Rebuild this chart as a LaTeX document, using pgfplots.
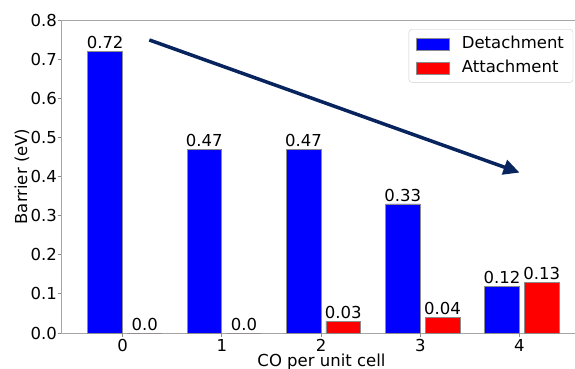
\documentclass[border=0pt]{standalone}
\usepackage{pgfplots}
\pgfplotsset{compat=1.18}
\usepackage{pgfplotstable}
\usepackage{fontspec}
\setmainfont{DejaVu Sans}
\usetikzlibrary{arrows.meta}
\definecolor{navy}{RGB}{8,36,94}
\pgfplotstableread{
x y lab
0 0.72 0.72
1 0.47 0.47
2 0.47 0.47
3 0.33 0.33
4 0.12 0.12
}\detach
\pgfplotstableread{
x y lab
0 0.00 0.0
1 0.00 0.0
2 0.03 0.03
3 0.04 0.04
4 0.13 0.13
}\attach
\begin{document}
\fontsize{16.5}{19.8}\selectfont
\begin{tikzpicture}
\begin{axis}[
  scale only axis, width=521pt, height=313pt,
  xmin=-0.62, xmax=4.63, ymin=0, ymax=0.8,
  xtick={0,1,2,3,4},
  ytick={0,0.1,0.2,0.3,0.4,0.5,0.6,0.7,0.8},
  yticklabel style={/pgf/number format/fixed, /pgf/number format/fixed zerofill, /pgf/number format/precision=1, xshift=5pt},
  xticklabel style={yshift=3pt},
  /pgf/number format/assume math mode=true,
  axis line style={black!35},
  tick style={black!45, line width=0.8pt},
  tick align=outside, major tick length=3.5pt,
  xtick pos=bottom, ytick pos=left,
  xlabel={CO per unit cell}, ylabel={Barrier (eV)},
  xlabel style={yshift=9pt},
  ylabel style={at={(axis description cs:-0.075,0.5)}, anchor=center},
  ticklabel style={font=\fontsize{16.5}{19.8}\selectfont},
  label style={font=\fontsize{16.5}{19.8}\selectfont},
  bar width=0.35,
  nodes near coords,
  point meta=explicit symbolic,
  nodes near coords style={font=\fontsize{16.5}{19.8}\selectfont, anchor=south, inner sep=2pt},
  legend style={at={(0.983,0.971)}, anchor=north east, draw=black!20, rounded corners=3pt,
    font=\fontsize{16.5}{19.8}\selectfont, row sep=5pt, inner xsep=7pt, inner ysep=5pt},
  legend cell align=left,
  legend image code/.code={\draw[#1, line width=0.5pt, sharp corners] (0pt,-6pt) rectangle (33pt,6pt);},
  clip=false,
]
\addplot[ybar, bar shift=-0.175, fill={rgb,255:red,0;green,0;blue,255}, draw=black!45, line width=0.6pt,
  every node near coord/.append style={xshift=-17.4pt}]
  table[x=x, y=y, meta=lab] {\detach};
\addlegendentry{\ \ Detachment}
\addplot[ybar, bar shift=0.225, fill={rgb,255:red,255;green,0;blue,0}, draw=black!45, line width=0.6pt,
  every node near coord/.append style={xshift=22.3pt}]
  table[x=x, y=y, meta=lab] {\attach};
\addlegendentry{\ \ Attachment}
\draw[-{Triangle[length=16pt,width=15pt]}, line width=3.5pt, navy]
  (axis cs:0.27,0.749) -- (axis cs:4.0,0.41);
\end{axis}
\pgfresetboundingbox
\path[use as bounding box] ([shift={(-61pt,-36pt)}]current axis.south west) rectangle ([shift={(514pt,333pt)}]current axis.south west);
\end{tikzpicture}
\end{document}
